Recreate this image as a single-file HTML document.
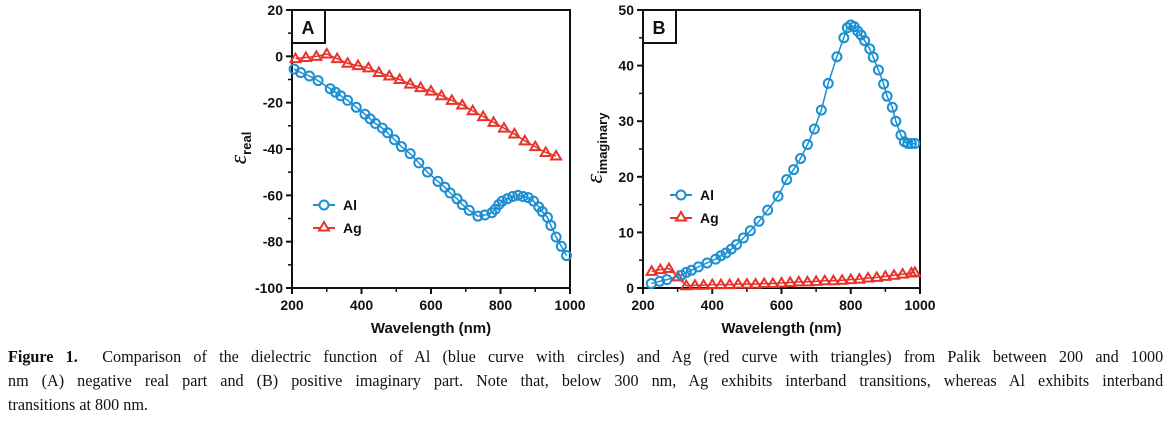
<!DOCTYPE html>
<html><head><meta charset="utf-8"><style>
body{margin:0;background:#fff;width:1170px;height:425px;overflow:hidden;position:relative;font-family:"Liberation Sans",sans-serif}
svg{position:absolute;left:0;top:0}
.cap{position:absolute;left:8px;font-family:"Liberation Serif",serif;font-size:17px;color:#111;white-space:nowrap;transform-origin:0 0;transform:scaleX(0.95);width:1216px;text-align:justify;text-align-last:justify}
</style></head><body>
<svg id="chart" width="1170" height="340" viewBox="0 0 1170 340"></svg>
<div class="cap" style="top:347px"><b>Figure 1.</b>&nbsp; Comparison of the dielectric function of Al (blue curve with circles) and Ag (red curve with triangles) from Palik between 200 and 1000</div>
<div class="cap" style="top:371px">nm (A) negative real part and (B) positive imaginary part. Note that, below 300 nm, Ag exhibits interband transitions, whereas Al exhibits interband</div>
<div class="cap" style="top:395px;text-align-last:left">transitions at 800 nm.</div>
<script>
const aAlX=[206,225,250,275,310,325,340,360,385,410,425,440,460,475,495,515,540,565,590,620,640,655,675,690,710,735,755,775,785,795,805,820,835,850,865,880,895,910,920,935,945,960,975,990];
const aAlY=[-5.5,-7,-8.5,-10.5,-14,-15.5,-17,-19,-22,-25,-27,-29,-31,-33,-36,-39,-42,-46,-50,-54,-56.5,-59,-61.5,-64,-66.5,-69,-68.5,-67.5,-66,-64,-62.5,-61.5,-60.5,-60,-60.5,-61,-62.5,-65,-67,-69.5,-73,-78,-82,-86];
const aAgX=[210,240,270,300,330,360,390,420,450,480,510,540,570,600,630,660,690,720,750,780,810,840,870,900,930,960];
const aAgY=[-1,-0.5,0,1,-1,-3,-4,-5,-7,-8.5,-10,-12,-13.5,-15,-17,-19,-21,-23.5,-26,-28.5,-31,-33.5,-36.5,-39,-41.5,-43];
const bAlX=[224,248,269,311,325,340,360,385,410,425,440,455,470,490,510,535,560,590,615,635,655,675,695,715,735,760,780,790,800,810,820,830,840,855,865,880,895,905,920,930,945,955,965,975,985];
const bAlY=[0.8,1.2,1.5,2.3,2.8,3.2,3.8,4.5,5.2,5.8,6.3,7,7.8,9,10.3,12,14,16.5,19.5,21.3,23.3,25.8,28.6,32,36.8,41.6,45,46.8,47.3,47,46.2,45.5,44.5,43,41.5,39.2,36.7,34.5,32.5,30,27.5,26.3,26,26,26];
const bAgX=[225,250,275,300,325,350,375,400,425,450,475,500,525,550,575,600,625,650,675,700,725,750,775,800,825,850,875,900,925,950,975,985];
const bAgY=[3,3.3,3.5,2,0.4,0.5,0.5,0.6,0.6,0.6,0.7,0.7,0.7,0.8,0.8,0.9,1,1.1,1.1,1.2,1.3,1.3,1.4,1.5,1.6,1.8,1.9,2.1,2.3,2.5,2.7,2.8];
const xTicks=[200,400,600,800,1000];
const aYTicks=[20,0,-20,-40,-60,-80,-100];
const bYTicks=[50,40,30,20,10,0];
const BLUE='#1b8fd2',RED='#e8332a';
const NS='http://www.w3.org/2000/svg';
const svg=document.getElementById('chart');
function mk(tag,at,parent){const e=document.createElementNS(NS,tag);for(const k in at)e.setAttribute(k,at[k]);(parent||svg).appendChild(e);return e;}
function tri(cx,cy,r){return `${cx},${cy-r} ${cx+r},${cy+r*0.7} ${cx-r},${cy+r*0.7}`;}
function panel(p){
  const L=p.L,R=p.R,T=10,B=288;
  const sx=v=>L+(v-200)/800*(R-L);
  const sy=v=>B-(v-p.ymin)/(p.ymax-p.ymin)*(B-T);
  const g=mk('g',{});
  
  
  const fr=mk('rect',{x:L,y:T,width:R-L,height:B-T,fill:'none',stroke:'#111','stroke-width':2},g);
  
  
  xTicks.forEach((t,i)=>{
    mk('line',{x1:sx(t),x2:sx(t),y1:B,y2:B+6,stroke:'#111','stroke-width':2},g);
    if(i<4)mk('line',{x1:sx(t+100),x2:sx(t+100),y1:B,y2:B+4,stroke:'#111','stroke-width':1.5},g);
    const tx=mk('text',{x:sx(t),y:B+22,'text-anchor':'middle','font-size':14,'font-weight':'bold',fill:'#111'},g);
    tx.textContent=t;
    
    
  });
  p.yt.forEach((t,i)=>{
    mk('line',{x1:L-6,x2:L,y1:sy(t),y2:sy(t),stroke:'#111','stroke-width':2},g);
    if(i<p.yt.length-1){const m=(t+p.yt[i+1])/2;mk('line',{x1:L-4,x2:L,y1:sy(m),y2:sy(m),stroke:'#111','stroke-width':1.5},g);}
    const tx=mk('text',{x:L-9,y:sy(t)+5,'text-anchor':'end','font-size':14,'font-weight':'bold',fill:'#111'},g);
    tx.textContent=t;
    
    
  });
  const xt=mk('text',{x:(L+R)/2,y:333,'text-anchor':'middle','font-size':15,'font-weight':'bold',fill:'#111'},g);
  xt.textContent='Wavelength (nm)';
  
  
  const yt=mk('text',{transform:`translate(${p.ytx},148) rotate(-90)`,'text-anchor':'middle','font-size':24,fill:'#111'},g);
  yt.innerHTML=`<tspan font-family="Liberation Serif" font-style="italic">ε</tspan><tspan font-size="13" font-weight="bold" dy="5">${p.sub}</tspan>`;
  
  
  const lb=mk('rect',{x:L,y:T,width:33,height:33,fill:'#fff',stroke:'#111','stroke-width':2},g);
  
  
  const lt=mk('text',{x:L+16,y:T+24,'text-anchor':'middle','font-size':18,'font-weight':'bold',fill:'#111'},g);
  lt.textContent=p.id;
  
  
  const ag=mk('polyline',{points:p.agX.map((x,i)=>sx(x)+','+sy(p.agY[i])).join(' '),fill:'none',stroke:RED,'stroke-width':1.5},g);
  
  
  p.agX.forEach((x,i)=>{const m=mk('polygon',{points:tri(sx(x),sy(p.agY[i]),5),fill:'none',stroke:RED,'stroke-width':2},g);
    
    });
  const al=mk('polyline',{points:p.alX.map((x,i)=>sx(x)+','+sy(p.alY[i])).join(' '),fill:'none',stroke:BLUE,'stroke-width':1.5},g);
  
  
  p.alX.forEach((x,i)=>{const m=mk('circle',{cx:sx(x),cy:sy(p.alY[i]),r:4.5,fill:'none',stroke:BLUE,'stroke-width':2},g);
    
    });
  const lx=p.lx,ly=p.ly;
  const l1=mk('g',{},g);
  
  
  mk('line',{x1:lx,x2:lx+22,y1:ly,y2:ly,stroke:BLUE,'stroke-width':2},l1);
  mk('circle',{cx:lx+11,cy:ly,r:4.5,fill:'#fff',stroke:BLUE,'stroke-width':2},l1);
  mk('text',{x:lx+30,y:ly+5,'font-size':14,'font-weight':'bold',fill:'#111'},l1).textContent='Al';
  const l2=mk('g',{},g);
  
  
  mk('line',{x1:lx,x2:lx+22,y1:ly+23,y2:ly+23,stroke:RED,'stroke-width':2},l2);
  mk('polygon',{points:tri(lx+11,ly+22,5),fill:'#fff',stroke:RED,'stroke-width':2},l2);
  mk('text',{x:lx+30,y:ly+28,'font-size':14,'font-weight':'bold',fill:'#111'},l2).textContent='Ag';
}
panel({id:'A',L:292,R:570,ymin:-100,ymax:20,yt:aYTicks,alX:aAlX,alY:aAlY,agX:aAgX,agY:aAgY,sub:'real',ytx:246,lx:313,ly:205});
panel({id:'B',L:643,R:920,ymin:0,ymax:50,yt:bYTicks,alX:bAlX,alY:bAlY,agX:bAgX,agY:bAgY,sub:'imaginary',ytx:602,lx:670,ly:195});
</script>
</body></html>
